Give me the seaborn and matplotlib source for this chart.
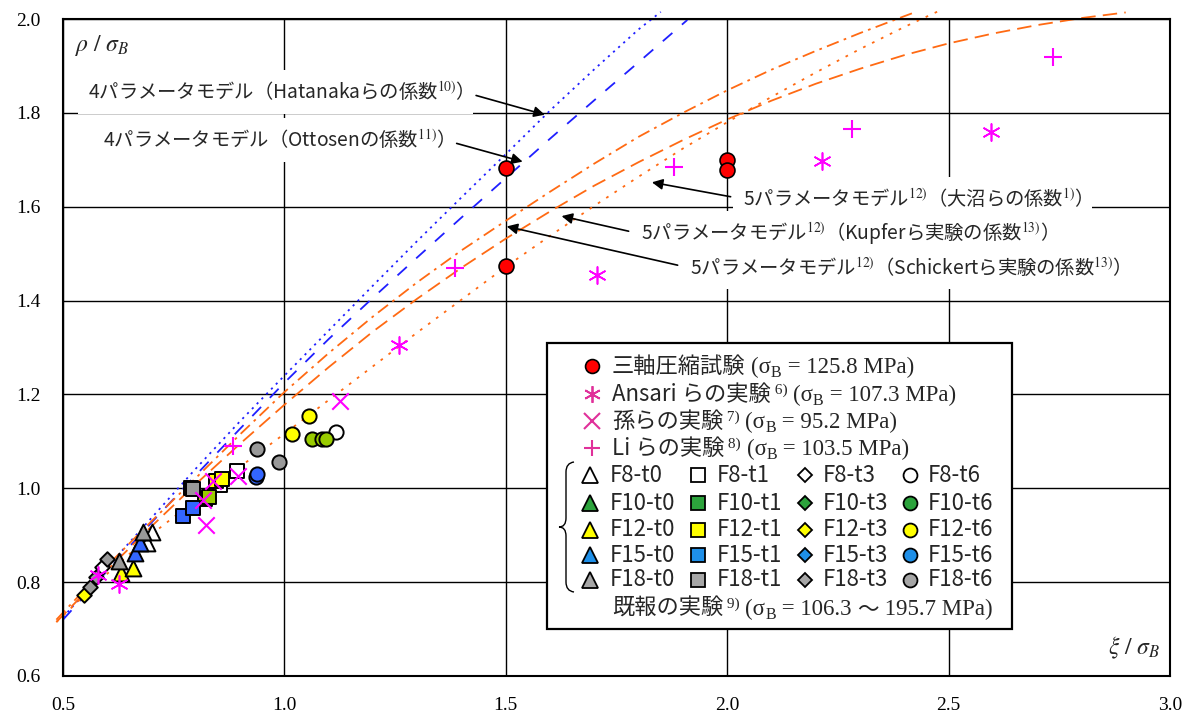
import matplotlib
matplotlib.use("Agg")
import matplotlib.pyplot as plt
import seaborn as sns
from matplotlib.lines import Line2D
from matplotlib.patches import Rectangle, PathPatch
from matplotlib.path import Path

sns.set_theme(style="white")
plt.rcParams["font.family"] = ["Noto Sans CJK JP", "DejaVu Sans"]
plt.rcParams["mathtext.fontset"] = "stix"

W, H = 1187, 719
JP = ["Noto Sans CJK JP", "DejaVu Sans"]
SERIF = ["Liberation Serif", "DejaVu Serif"]

# ---- model curves ----
hatanaka_x = [0.50, 0.60, 0.70, 0.80, 0.90, 1.00, 1.10, 1.20, 1.30, 1.40, 1.50, 1.60, 1.70, 1.80, 1.85]
hatanaka_y = [0.725, 0.832, 0.937, 1.042, 1.143, 1.240, 1.336, 1.432, 1.527, 1.620, 1.712,
              1.805, 1.893, 1.978, 2.015]
ottosen_x = [0.50, 0.60, 0.70, 0.80, 0.90, 1.00, 1.10, 1.20, 1.30, 1.40, 1.50, 1.60, 1.70, 1.80, 1.91]
ottosen_y = [0.72, 0.824, 0.927, 1.028, 1.127, 1.225, 1.318, 1.406, 1.492, 1.577, 1.661,
             1.745, 1.827, 1.908, 1.998]
schickert_x = [0.485, 0.60, 0.70, 0.80, 0.90, 1.00, 1.10, 1.20, 1.30, 1.40, 1.50, 1.60, 1.70,
               1.80, 1.90, 2.00, 2.10, 2.20, 2.30, 2.40, 2.42]
schickert_y = [0.72, 0.835, 0.930, 1.022, 1.115, 1.205, 1.288, 1.366, 1.439, 1.507, 1.570,
               1.632, 1.692, 1.749, 1.800, 1.848, 1.892, 1.932, 1.970, 2.006, 2.013]
kupfer_x = [0.485, 0.60, 0.70, 0.80, 0.90, 1.00, 1.10, 1.20, 1.30, 1.40, 1.50, 1.60, 1.70, 1.80,
            1.90, 2.00, 2.10, 2.20, 2.30, 2.40, 2.50, 2.60, 2.70, 2.80, 2.90]
kupfer_y = [0.715, 0.826, 0.919, 1.009, 1.095, 1.178, 1.258, 1.334, 1.404, 1.470, 1.532, 1.590,
            1.645, 1.695, 1.742, 1.786, 1.826, 1.862, 1.894, 1.923, 1.948, 1.969, 1.987, 2.002, 2.014]
onuma_x = [0.485, 0.60, 0.70, 0.80, 0.90, 1.00, 1.10, 1.20, 1.30, 1.40, 1.50, 1.60, 1.70, 1.80,
           1.90, 2.00, 2.10, 2.20, 2.30, 2.40, 2.48]
onuma_y = [0.715, 0.818, 0.902, 0.975, 1.046, 1.116, 1.188, 1.260, 1.332, 1.402, 1.472, 1.538,
           1.602, 1.664, 1.724, 1.780, 1.834, 1.886, 1.936, 1.983, 2.018]

# ---- experiments ----
triaxial_x = [1.50, 1.50, 2.00, 2.00]
triaxial_y = [1.683, 1.474, 1.700, 1.679]
ansari_x = [0.578, 0.627, 1.258, 1.705, 2.213, 2.596]
ansari_y = [0.816, 0.797, 1.306, 1.455, 1.697, 1.759]
sun_x = [0.816, 0.824, 0.839, 0.896, 1.125]
sun_y = [0.975, 0.922, 1.016, 1.026, 1.186]
li_x = [0.884, 1.385, 1.879, 2.282, 2.735]
li_y = [1.091, 1.470, 1.685, 1.765, 1.920]

# previous tests, by specimen type (t0 triangle, t1 square, t3 diamond, t6 circle)
t0_pts = {
    "F8": ([0.689, 0.700], [0.884, 0.906]),
    "F12": ([0.632, 0.659], [0.820, 0.831]),
    "F15": ([0.662, 0.673], [0.863, 0.884]),
    "F18": ([0.627, 0.681], [0.846, 0.906]),
}
t1_pts = {
    "F8": ([0.854, 0.892], [1.008, 1.037]),
    "F10": ([0.820, 0.830], [0.978, 0.982]),
    "F12": ([0.846, 0.858], [1.016, 1.019]),
    "F15": ([0.770, 0.794], [0.941, 0.957]),
    "F18": ([0.788, 0.794], [1.000, 0.999]),
}
t3_pts = {
    "F8": ([0.588], [0.832]),
    "F12": ([0.547], [0.772]),
    "F18": ([0.560, 0.574, 0.600], [0.790, 0.812, 0.850]),
}
t6_pts = {
    "F8": ([1.116], [1.120]),
    "F10": ([1.063, 1.085, 1.095], [1.104, 1.104, 1.104]),
    "F12": ([1.018, 1.056], [1.115, 1.153]),
    "F15": ([0.935, 0.937], [1.025, 1.030]),
    "F18": ([0.939, 0.988], [1.083, 1.056]),
}

xticks = [0.5, 1.0, 1.5, 2.0, 2.5, 3.0]
yticks = [0.6, 0.8, 1.0, 1.2, 1.4, 1.6, 1.8, 2.0]

groups = ["F8", "F10", "F12", "F15", "F18"]
types = ["t0", "t1", "t3", "t6"]
plot_fill = {"F8": "white", "F10": "#99CC00", "F12": "#FFFF00", "F15": "#3366FF", "F18": "#999999"}
legend_fill = {"F8": "white", "F10": "#2CA33C", "F12": "#FFFF00", "F15": "#1E8FE8", "F18": "#A6A6A6"}
type_marker = {"t0": "^", "t1": "s", "t3": "D", "t6": "o"}
type_size = {"t0": 130, "t1": 115, "t3": 55, "t6": 105}
type_ms = {"t0": 11, "t1": 9.5, "t3": 7.5, "t6": 10}

ORANGE = "#FF6A13"
BLUE = "#1F1FFF"
MAGENTA = "#FF00FF"
LEG_MAG = "#E0309A"
ASTER = (6, 2, 0)

fig, ax = plt.subplots(figsize=(W / 100, H / 100), dpi=100)
fig.patch.set_facecolor("white")
fig.subplots_adjust(left=63 / W, right=1170 / W, bottom=1 - 676 / H, top=1 - 19 / H)

# curves
curve_kw = dict(ax=ax, lw=1.3, clip_on=False, zorder=2)
sns.lineplot(x=hatanaka_x, y=hatanaka_y, color=BLUE, linestyle=(0, (1.2, 2.6)), **curve_kw)
sns.lineplot(x=ottosen_x, y=ottosen_y, color=BLUE, linestyle=(0, (7, 7)), **curve_kw)
sns.lineplot(x=schickert_x, y=schickert_y, color=ORANGE, linestyle=(0, (7, 3, 1.5, 3)), **curve_kw)
sns.lineplot(x=kupfer_x, y=kupfer_y, color=ORANGE, linestyle=(0, (8, 4)), **curve_kw)
sns.lineplot(x=onuma_x, y=onuma_y, color=ORANGE, linestyle=(0, (1.5, 4)), **curve_kw)

# previous tests
for t, pts in zip(types, [t0_pts, t1_pts, t3_pts, t6_pts]):
    for g in groups:
        if g not in pts:
            continue
        xs, ys = pts[g]
        sns.scatterplot(x=xs, y=ys, ax=ax, marker=type_marker[t], s=type_size[t],
                        color=plot_fill[g], edgecolor="black", linewidth=1.4,
                        zorder=3, legend=False)

sns.scatterplot(x=ansari_x, y=ansari_y, ax=ax, marker=ASTER, s=150, color=MAGENTA,
                linewidth=1.2, zorder=4, legend=False)
sns.scatterplot(x=sun_x, y=sun_y, ax=ax, marker="x", s=140, color=MAGENTA,
                linewidth=1.5, zorder=4, legend=False)
sns.scatterplot(x=li_x, y=li_y, ax=ax, marker="+", s=150, color=MAGENTA,
                linewidth=1.5, zorder=4, legend=False)
sns.scatterplot(x=triaxial_x, y=triaxial_y, ax=ax, marker="o", s=115, color="#FF0000",
                edgecolor="black", linewidth=1.2, zorder=4, legend=False)

ax.set_xlim(0.5, 3.0)
ax.set_ylim(0.6, 2.0)
ax.set_xticks(xticks, labels=[f"{v:.1f}" for v in xticks], fontfamily=SERIF, fontsize=14)
ax.set_yticks(yticks, labels=[f"{v:.1f}" for v in yticks], fontfamily=SERIF, fontsize=14)
ax.tick_params(axis="x", direction="in", length=10, width=1, colors="black", pad=15)
ax.tick_params(axis="y", direction="in", length=10, width=1, colors="black", pad=16)
ax.grid(True, color="black", lw=1.0)
ax.set_axisbelow(True)
for sp in ax.spines.values():
    sp.set_color("black")
    sp.set_linewidth(1.5)
ax.set_xlabel("")
ax.set_ylabel("")

ax.text(0.011, 0.96, r"$\rho\ /\ \sigma_B$", transform=ax.transAxes, fontsize=17,
        va="center", ha="left")
ax.text(0.991, 0.043, r"$\xi\ /\ \sigma_B$", transform=ax.transAxes, fontsize=17,
        va="center", ha="right")

# model labels with arrows (superscripts via mathtext)
labels = [
    ("4パラメータモデル（Hatanakaらの係数$^{10)}$）", (1.588, 1.796), (88, 92), (1, 0.5)),
    ("4パラメータモデル（Ottosenの係数$^{11)}$）", (1.538, 1.696), (103, 140), (1, 0.5)),
    ("5パラメータモデル$^{12)}$（大沼らの係数$^{1)}$）", (1.830, 1.652), (743, 199), (0, 0.5)),
    ("5パラメータモデル$^{12)}$（Kupferら実験の係数$^{13)}$）", (1.626, 1.580), (641, 234), (0, 0.5)),
    ("5パラメータモデル$^{12)}$（Schickertら実験の係数$^{13)}$）", (1.502, 1.558), (690, 268), (0, 0.5)),
]
for text, tip, (px, py), rel in labels:
    ax.annotate(text, xy=tip, xycoords="data", xytext=(px / W, 1 - py / H),
                textcoords="figure fraction", ha="left", va="center", fontsize=13.9,
                fontfamily="Noto Sans CJK JP", zorder=6,
                bbox=dict(boxstyle="square,pad=0.5", fc="white", ec="none"),
                arrowprops=dict(arrowstyle="-|>", color="black", lw=1.2,
                                mutation_scale=16, shrinkA=2, shrinkB=0, relpos=rel))

# ---- hand-built legend box ----
def fx(px):
    return px / W


def fy(py):
    return 1 - py / H


fig.add_artist(Rectangle((fx(547), fy(629)), fx(1012) - fx(547), fy(343) - fy(629),
                         transform=fig.transFigure, fc="white", ec="black", lw=1.6, zorder=5))

renderer = fig.canvas.get_renderer()


def chain(px, py, parts):
    for text, size, family, dy in parts:
        t = fig.text(fx(px), fy(py - dy), text, fontsize=size, fontfamily=family,
                     va="baseline", ha="left", zorder=8)
        px += t.get_window_extent(renderer).width


def sigma_parts(rest):
    return [("(σ", 16.5, SERIF, 0), ("B", 11.5, SERIF, -4), (" = " + rest + ")", 16.5, SERIF, 0)]


def mark(px, py, **kw):
    fig.add_artist(Line2D([fx(px)], [fy(py)], transform=fig.transFigure,
                          linestyle="none", zorder=7, **kw))


rows_py = [366, 394, 421, 448]
mark(592, rows_py[0], marker="o", ms=10, mfc="#FF0000", mec="black", mew=1.2)
mark(592, rows_py[1], marker=ASTER, ms=12, mec=LEG_MAG, mew=1.3)
mark(592, rows_py[2], marker="x", ms=11, mec=LEG_MAG, mew=1.5)
mark(592, rows_py[3], marker="+", ms=12, mec=LEG_MAG, mew=1.5)
row_text = [("三軸圧縮試験", None, "125.8 MPa"), ("Ansari らの実験", "6)", "107.3 MPa"),
            ("孫らの実験", "7)", "95.2 MPa"), ("Li らの実験", "8)", "103.5 MPa")]
for py, (jp, ref, val) in zip(rows_py, row_text):
    parts = [(jp, 16, JP, 0)]
    if ref:
        parts.append((" " + ref, 11, SERIF, 7))
    parts.append((" ", 16, SERIF, 0))
    chain(612, py + 7, parts + sigma_parts(val))

grid_py = [475, 503, 530, 555, 580]
col_mark_px = [590, 698, 805, 910]
col_text_px = [610, 717, 823, 928]
for py, g in zip(grid_py, groups):
    for t, mx, tx in zip(types, col_mark_px, col_text_px):
        mark(mx, py, marker=type_marker[t], ms=type_ms[t], mfc=legend_fill[g],
             mec="black", mew=1.3)
        fig.text(fx(tx), fy(py), f"{g}-{t}", fontsize=16, fontfamily=JP,
                 va="center", ha="left", zorder=8)

chain(612, 608 + 7, [("既報の実験", 16, JP, 0), (" 9)", 11, SERIF, 7), (" ", 16, SERIF, 0),
                     ("(σ", 16.5, SERIF, 0), ("B", 11.5, SERIF, -4),
                     (" = 106.3 ", 16.5, SERIF, 0), ("～", 15.5, JP, 0),
                     (" 195.7 MPa)", 16.5, SERIF, 0)])

# curly brace
brace = [(574, 462), (566, 463), (566, 472), (566, 518), (566, 527), (559, 527),
         (566, 527), (566, 536), (566, 582), (566, 591), (574, 592)]
codes = [Path.MOVETO, Path.CURVE3, Path.CURVE3, Path.LINETO, Path.CURVE3, Path.CURVE3,
         Path.CURVE3, Path.CURVE3, Path.LINETO, Path.CURVE3, Path.CURVE3]
fig.add_artist(PathPatch(Path([(fx(a), fy(b)) for a, b in brace], codes),
                         transform=fig.transFigure, fc="none", ec="black", lw=1.0, zorder=7))

fig.savefig("out.png", dpi=100)
